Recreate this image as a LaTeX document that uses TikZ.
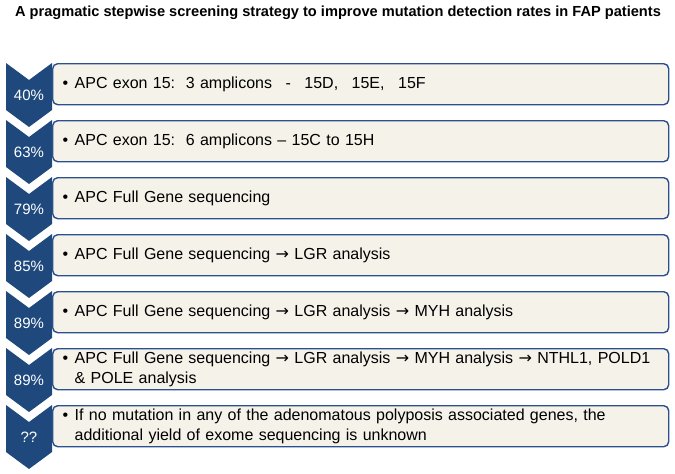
\documentclass[tikz,border=0pt]{standalone}
\usepackage{fontspec}
\setmainfont{Liberation Sans}
\newfontfamily\symfont{DejaVu Sans}
\usetikzlibrary{positioning, calc, backgrounds}
\definecolor{chevblue}{RGB}{31,73,125}
\definecolor{edgeblue}{RGB}{42,80,142}
\definecolor{boxfill}{RGB}{245,242,233}
\hyphenpenalty=10000
\exhyphenpenalty=10000
\newcommand{\steptext}[1]{\hangindent=12pt\hangafter=1\makebox[12pt][l]{\textbullet}#1\par}
\newcommand{\ra}{{\symfont →}}
\newcommand{\gap}{\hspace{13.5pt}}

\begin{document}
\begin{tikzpicture}[
  x=1pt, y=-1pt,
  font=\fontsize{16}{20}\selectfont,
  stepbox/.style={draw=edgeblue, line width=1.4pt, rounded corners=5pt, fill=boxfill, minimum width=616pt, minimum height=41pt, text width=596pt, inner xsep=10pt, inner ysep=0pt, align=left, anchor=north west},
  pct/.style={text=white, font=\fontsize{15}{18}\selectfont},
  chev/.style={fill=chevblue},
]
  \useasboundingbox (0,0) rectangle (675,474);
  \node[font=\bfseries\fontsize{14.6}{16}\selectfont] (title) at (338,13) {A pragmatic stepwise screening strategy to improve mutation detection rates in FAP patients};

  \node[stepbox] (b1) at (52,63) {\steptext{APC exon 15:\ \ 3 amplicons\gap-\gap15D,\gap15E,\gap15F}};
  \node[stepbox, below=14.6pt of b1] (b2) {\steptext{APC exon 15:\ \ 6 amplicons -- 15C to 15H}};
  \node[stepbox, below=14.6pt of b2] (b3) {\steptext{APC Full Gene sequencing}};
  \node[stepbox, below=14.6pt of b3] (b4) {\steptext{APC Full Gene sequencing \ra\ LGR analysis}};
  \node[stepbox, below=14.6pt of b4] (b5) {\steptext{APC Full Gene sequencing \ra\ LGR analysis \ra\ MYH analysis}};
  \node[stepbox, below=14.6pt of b5] (b6) {\steptext{APC Full Gene sequencing \ra\ LGR analysis \ra\ MYH analysis \ra\ NTHL1, POLD1 \& POLE analysis}};
  \node[stepbox, below=14.6pt of b6] (b7) {\steptext{If no mutation in any of the adenomatous polyposis associated genes, the additional yield of exome sequencing is unknown}};

  % chevrons behind the boxes
  \begin{scope}[on background layer]
    \foreach \i in {1,...,7}
      \fill[chev] ($(b\i.north west)+(-46,0)$) -- ++(23,17) -- ++(23,-17) -- ++(0,47) -- ++(-23,17) -- ++(-23,-17) -- cycle;
  \end{scope}
  \foreach \i/\p in {1/40\%, 2/63\%, 3/79\%, 4/85\%, 5/89\%, 6/89\%, 7/??}
    \node[pct] (p\i) at ($(b\i.west)+(-23,11)$) {\p};
\end{tikzpicture}
\end{document}
